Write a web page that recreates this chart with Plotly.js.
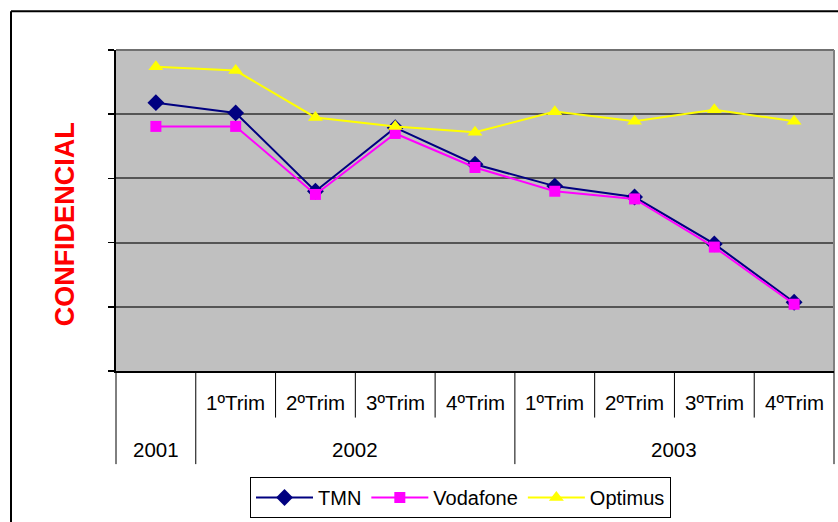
<!DOCTYPE html>
<html>
<head>
<meta charset="utf-8">
<script src="https://cdn.plot.ly/plotly-3.0.1.min.js"></script>
<style>
  html, body { margin: 0; padding: 0; background: #ffffff; }
  #chart { width: 838px; height: 522px; }
</style>
</head>
<body>
<div id="chart"></div>
<script>
// ---- data ----
var quarterLabels = ['', '1ºTrim', '2ºTrim', '3ºTrim', '4ºTrim', '1ºTrim', '2ºTrim', '3ºTrim', '4ºTrim'];
var yearLabels = ['2001', '2002', '2003'];
var yearSpans = [1, 4, 4];
var tmn      = [4.18, 4.02, 2.80, 3.79, 3.22, 2.88, 2.71, 1.98, 1.07];
var vodafone = [3.81, 3.81, 2.75, 3.70, 3.17, 2.80, 2.68, 1.93, 1.04];
var optimus  = [4.74, 4.68, 3.95, 3.81, 3.72, 4.04, 3.89, 4.07, 3.89];
var seriesNames = ['TMN', 'Vodafone', 'Optimus'];

// ---- layout helpers ----
var FONT = 'Arial, "Liberation Sans", sans-serif';
var n = quarterLabels.length;
var xs = quarterLabels.map(function (_, i) { return i; });

// plot area in pixels: left 116, right 834, top 50, bottom 374
var L = 116, R = 834, T = 50, B = 374;
function px2paperX(p) { return (p - L) / (R - L); }
function px2paperY(p) { return (B - p) / (B - T); }

var traces = [
  { x: xs, y: tmn, name: seriesNames[0], type: 'scatter', mode: 'lines+markers',
    line: { color: '#000080', width: 2 },
    marker: { symbol: 'diamond', size: 13, color: '#000080' } },
  { x: xs, y: vodafone, name: seriesNames[1], type: 'scatter', mode: 'lines+markers',
    line: { color: '#FF00FF', width: 2 },
    marker: { symbol: 'square', size: 11, color: '#FF00FF' } },
  { x: xs, y: optimus, name: seriesNames[2], type: 'scatter', mode: 'lines+markers',
    line: { color: '#FFFF00', width: 2 },
    marker: { symbol: 'triangle-up', size: 13, color: '#FFFF00' } }
];

var shapes = [];
var annotations = [];

// year boundaries
var bounds = [0];
yearSpans.forEach(function (s) { bounds.push(bounds[bounds.length - 1] + s); });

// category tick dividers below the axis
for (var k = 0; k <= n; k++) {
  var isYear = bounds.indexOf(k) >= 0;
  shapes.push({
    type: 'line', xref: 'paper', yref: 'paper',
    x0: k / n, x1: k / n,
    y0: 0, y1: isYear ? px2paperY(468) : px2paperY(421),
    line: { color: '#000000', width: 1 }
  });
}
// quarter labels
quarterLabels.forEach(function (q, i) {
  if (!q) return;
  annotations.push({
    xref: 'x', yref: 'paper', x: xs[i], y: px2paperY(406),
    text: q, showarrow: false, xanchor: 'center', yanchor: 'middle',
    font: { family: FONT, size: 20.5, color: '#000000' }
  });
});
// year labels
yearLabels.forEach(function (yl, j) {
  var mid = (bounds[j] + bounds[j + 1]) / 2 - 0.5;
  annotations.push({
    xref: 'x', yref: 'paper', x: mid, y: px2paperY(453),
    text: yl, showarrow: false, xanchor: 'center', yanchor: 'middle',
    font: { family: FONT, size: 20.5, color: '#000000' }
  });
});
// CONFIDENCIAL label
annotations.push({
  xref: 'paper', yref: 'paper', x: px2paperX(65), y: px2paperY(226),
  text: '<b>CONFIDENCIAL</b>', textangle: -90, showarrow: false,
  xanchor: 'center', yanchor: 'middle',
  font: { family: FONT, size: 27, color: '#FF0000' }
});

// plot area top/right border (gray)
shapes.push({ type: 'line', xref: 'paper', yref: 'paper', x0: 0, x1: 1, y0: 1, y1: 1,
  line: { color: '#707070', width: 2 }, layer: 'above' });
shapes.push({ type: 'line', xref: 'paper', yref: 'paper', x0: 1, x1: 1, y0: 0, y1: 1,
  line: { color: '#808080', width: 2 }, layer: 'above' });

// outer chart frame (left and top edges visible)
var fx = px2paperX(11), fy = px2paperY(11);
shapes.push({ type: 'line', xref: 'paper', yref: 'paper', x0: fx, x1: px2paperX(845), y0: fy, y1: fy,
  line: { color: '#000000', width: 2 } });
shapes.push({ type: 'line', xref: 'paper', yref: 'paper', x0: fx, x1: fx, y0: fy, y1: px2paperY(530),
  line: { color: '#000000', width: 2 } });

var layout = {
  width: 838, height: 522,
  margin: { l: L, r: 838 - R, t: T, b: 522 - B, pad: 0 },
  paper_bgcolor: '#FFFFFF',
  plot_bgcolor: '#C0C0C0',
  font: { family: FONT, size: 20, color: '#000000' },
  showlegend: true,
  legend: {
    orientation: 'h',
    x: px2paperX(250), y: px2paperY(481),
    xanchor: 'left', yanchor: 'top',
    bgcolor: '#FFFFFF', bordercolor: '#000000', borderwidth: 1,
    font: { family: FONT, size: 20, color: '#000000' },
    itemwidth: 57,
    tracegroupgap: 0
  },
  xaxis: {
    type: 'linear', range: [-0.5, n - 0.5],
    showgrid: false, zeroline: false,
    showticklabels: false, ticks: '',
    showline: true, linecolor: '#000000', linewidth: 2,
    fixedrange: true
  },
  yaxis: {
    range: [0, 5], tickvals: [0, 1, 2, 3, 4, 5],
    showticklabels: false,
    ticks: 'outside', ticklen: 6, tickwidth: 1.5, tickcolor: '#000000',
    showgrid: true, gridcolor: '#555555', gridwidth: 2,
    zeroline: false,
    showline: true, linecolor: '#000000', linewidth: 2,
    fixedrange: true
  },
  shapes: shapes,
  annotations: annotations
};

Plotly.newPlot('chart', traces, layout, { displayModeBar: false, staticPlot: true });
</script>
</body>
</html>
